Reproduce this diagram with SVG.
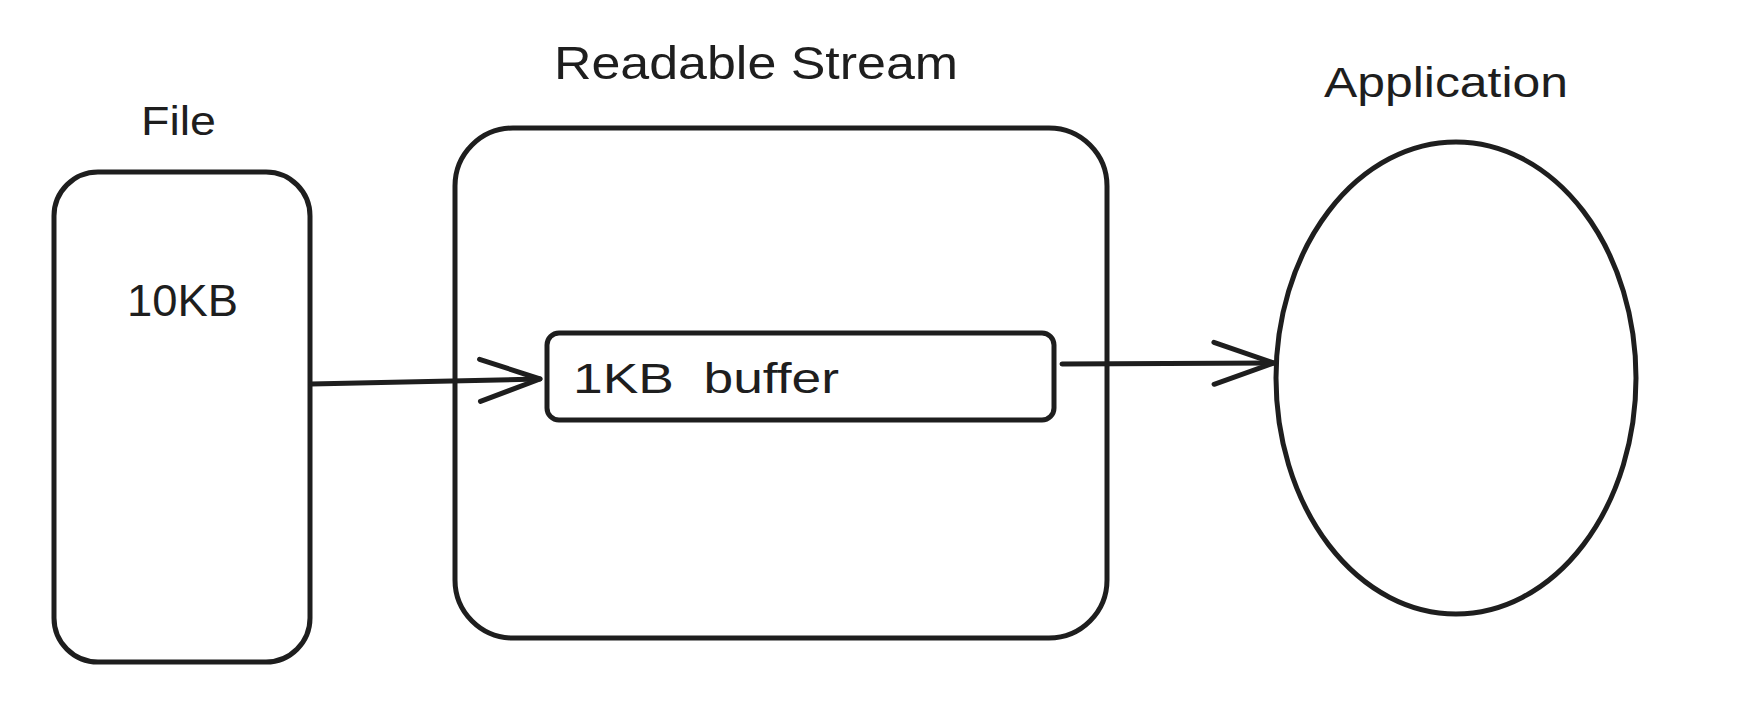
<svg xmlns="http://www.w3.org/2000/svg" width="1737" height="727" viewBox="0 0 1737 727">
<style>
.shape{fill:none;stroke:#1e1e1e;stroke-width:5;stroke-linecap:round;stroke-linejoin:round}
.lbl{font-family:"Liberation Sans","DejaVu Sans",sans-serif;fill:#1e1e1e}
.conn{fill:none;stroke:#1e1e1e;stroke-width:5;stroke-linecap:round}
</style>
<defs>
<marker id="arr" markerUnits="userSpaceOnUse" viewBox="-70 -30 80 60" refX="0" refY="0" markerWidth="80" markerHeight="60" orient="auto" overflow="visible">
<path d="M -60 -21 L 0 0 L -60 21" fill="none" stroke="#1e1e1e" stroke-width="5" stroke-linecap="round" stroke-linejoin="round"/>
</marker>
</defs>
<rect width="1737" height="727" fill="#ffffff"/>
<g id="file">
<text class="lbl" x="141" y="135" font-size="40" textLength="75" lengthAdjust="spacingAndGlyphs">File</text>
<rect class="shape" x="54" y="172" width="256" height="490" rx="44"/>
<text class="lbl" x="127" y="316" font-size="44" textLength="111" lengthAdjust="spacingAndGlyphs">10KB</text>
</g>
<g id="readable-stream">
<text class="lbl" x="554" y="79" font-size="46" textLength="404" lengthAdjust="spacingAndGlyphs">Readable Stream</text>
<rect class="shape" x="455" y="128" width="652" height="510" rx="58"/>
</g>
<g id="buffer">
<rect class="shape" x="547" y="333" width="507" height="87" rx="12"/>
<text class="lbl" x="573" y="393" font-size="42" textLength="266" lengthAdjust="spacingAndGlyphs" xml:space="preserve">1KB  buffer</text>
</g>
<g id="application">
<text class="lbl" x="1324" y="97" font-size="42" textLength="244" lengthAdjust="spacingAndGlyphs">Application</text>
<ellipse class="shape" cx="1456" cy="378" rx="180" ry="236"/>
</g>
<g id="connectors">
<path class="conn" d="M 311 384 L 540 379" marker-end="url(#arr)"/>
<path class="conn" d="M 1062 364 L 1274 363" marker-end="url(#arr)"/>
</g>
</svg>
